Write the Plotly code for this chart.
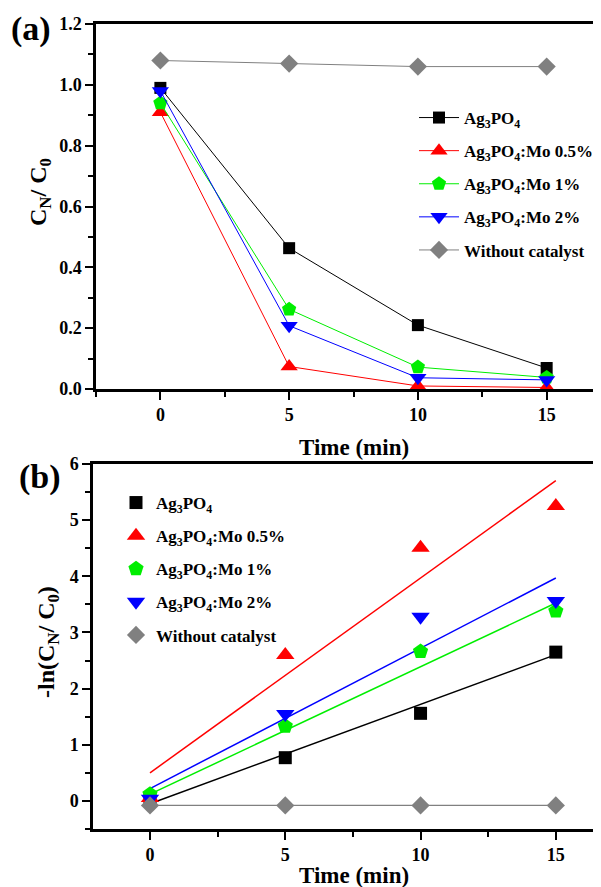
import plotly.graph_objects as go

# page body has an 8px default margin; the figure is sized and placed to compensate
OFF = 8
W, H = 601 - OFF, 887 - OFF

# ---------------- data ----------------
time_min = [0, 5, 10, 15]
series_names = ["Ag<sub>3</sub>PO<sub>4</sub>",
                "Ag<sub>3</sub>PO<sub>4</sub>:Mo 0.5%",
                "Ag<sub>3</sub>PO<sub>4</sub>:Mo 1%",
                "Ag<sub>3</sub>PO<sub>4</sub>:Mo 2%",
                "Without catalyst"]

# panel (a): C_N / C_0
ratio_ag3po4 = [0.99, 0.463, 0.21, 0.069]
ratio_mo05 = [0.91, 0.074, 0.01, 0.005]
ratio_mo1 = [0.94, 0.262, 0.072, 0.038]
ratio_mo2 = [0.98, 0.208, 0.037, 0.03]
ratio_none = [1.08, 1.07, 1.06, 1.06]

# panel (b): -ln(C_N / C_0)
ln_ag3po4 = [0.01, 0.77, 1.56, 2.65]
ln_mo05 = [0.05, 2.60, 4.51, 5.25]
ln_mo1 = [0.12, 1.33, 2.66, 3.38]
ln_mo2 = [0.04, 1.55, 3.28, 3.56]
ln_none = [-0.08, -0.08, -0.08, -0.08]

# linear fits (intercept, slope)
fit_intercepts = [-0.05, 0.50, 0.12, 0.22, -0.08]
fit_slopes = [0.177, 0.347, 0.227, 0.250, 0.0]
fit_x = [0, 15]

a_y_ticks = [0.0, 0.2, 0.4, 0.6, 0.8, 1.0, 1.2]
b_y_ticks = [0, 1, 2, 3, 4, 5, 6]
x_ticks = [0, 5, 10, 15]

# ---------------- styles ----------------
colors = ["#000000", "#FF0000", "#00EE00", "#0000FF", "#808080"]
symbols = ["square", "triangle-up", "pentagon", "triangle-down", "diamond"]
sizes_a = [12, 15, 15, 15, 14]
sizes_b = [13, 16, 16, 16, 14]
FONT = "Liberation Serif, 'Times New Roman', Times, serif"


def px_x(p):
    return (p - OFF) / W


def px_y(p):
    return 1 - (p - OFF) / H


fig = go.Figure()

ratios = [ratio_ag3po4, ratio_mo05, ratio_mo1, ratio_mo2, ratio_none]
lns = [ln_ag3po4, ln_mo05, ln_mo1, ln_mo2, ln_none]

for i in range(5):
    fig.add_trace(go.Scatter(
        x=time_min, y=ratios[i], mode="lines+markers", name=series_names[i],
        line=dict(color=colors[i], width=1),
        marker=dict(symbol=symbols[i], size=sizes_a[i], color=colors[i]),
        xaxis="x", yaxis="y", legend="legend", legendgroup="a%d" % i,
    ))

for i in range(5):
    fx = fit_x
    fy = [fit_intercepts[i] + fit_slopes[i] * t for t in fx]
    if i == 4:
        fx = time_min
        fy = ln_none
    fig.add_trace(go.Scatter(
        x=fx, y=fy, mode="lines", showlegend=False,
        line=dict(color=colors[i], width=1.5 if i < 4 else 1.2),
        xaxis="x2", yaxis="y2", hoverinfo="skip",
    ))

for i in range(5):
    fig.add_trace(go.Scatter(
        x=time_min, y=lns[i], mode="markers", name=series_names[i],
        marker=dict(symbol=symbols[i], size=sizes_b[i], color=colors[i]),
        xaxis="x2", yaxis="y2", legend="legend2", legendgroup="b%d" % i,
    ))

axis_common = dict(
    showline=True, linecolor="black", linewidth=2.5, showgrid=False, zeroline=False,
    ticks="outside", ticklen=8, tickwidth=2, tickcolor="black",
    tickfont=dict(family=FONT, size=18, color="black", weight="bold"),
)


def minor(dt):
    return dict(dtick=dt, tick0=0, ticks="outside", ticklen=5, tickwidth=2, tickcolor="black")


legend_font = dict(family=FONT, size=17, color="black", weight="bold")

fig.update_layout(
    width=W, height=H,
    margin=dict(l=0, r=0, t=0, b=0, autoexpand=False),
    paper_bgcolor="white", plot_bgcolor="white",
    xaxis=dict(domain=[px_x(96), 1], range=[-2.5, 17.11], anchor="y",
               tickvals=x_ticks, mirror=True, minor=minor(2.5), **axis_common),
    yaxis=dict(domain=[px_y(389), px_y(24)], range=[0, 1.2], anchor="x",
               tickvals=a_y_ticks, ticktext=["%.1f" % v for v in a_y_ticks],
               minor=minor(0.1), **axis_common),
    xaxis2=dict(domain=[px_x(93), 1], range=[-2.107, 16.67], anchor="y2",
                tickvals=x_ticks, mirror=True, minor=minor(2.5), **axis_common),
    yaxis2=dict(domain=[px_y(829), px_y(464)], range=[-0.5, 6], anchor="x2",
                tickvals=b_y_ticks, minor=minor(0.5), **axis_common),
    legend=dict(x=px_x(414), y=px_y(100), xanchor="left", yanchor="top",
                bgcolor="rgba(0,0,0,0)", traceorder="grouped", tracegroupgap=8,
                itemwidth=40, font=legend_font),
    legend2=dict(x=px_x(116), y=px_y(485), xanchor="left", yanchor="top",
                 bgcolor="rgba(0,0,0,0)", traceorder="grouped", tracegroupgap=8,
                 font=legend_font),
    showlegend=True,
)

ann_font = dict(family=FONT, color="black", weight="bold")
annotations = [
    dict(text="(a)", x=px_x(31), y=px_y(29), size=34),
    dict(text="(b)", x=px_x(40), y=px_y(477), size=34),
    dict(text="Time (min)", x=px_x(354), y=px_y(447), size=23),
    dict(text="Time (min)", x=px_x(354), y=px_y(875), size=23),
    dict(text="C<sub>N</sub>/ C<sub>0</sub>", x=px_x(40), y=px_y(192), size=24, angle=-90),
    dict(text="-ln(C<sub>N</sub>/ C<sub>0</sub>)", x=px_x(48), y=px_y(642), size=24, angle=-90),
]
for a in annotations:
    fig.add_annotation(text=a["text"], x=a["x"], y=a["y"], xref="paper", yref="paper",
                       xanchor="center", yanchor="middle", showarrow=False,
                       textangle=a.get("angle", 0),
                       font=dict(size=a["size"], **ann_font))

fig.write_html("out.html")
